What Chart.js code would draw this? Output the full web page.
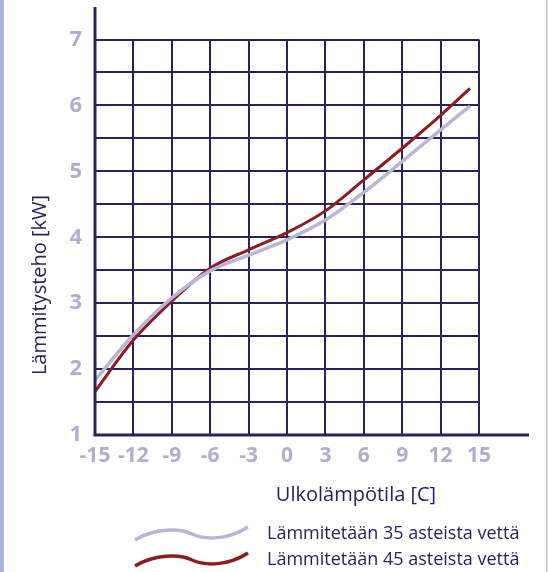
<!DOCTYPE html>
<html>
<head>
<meta charset="utf-8">
<script src="https://cdn.jsdelivr.net/npm/chart.js@4/dist/chart.umd.min.js"></script>
<style>
  html, body { margin: 0; padding: 0; background: #fff; }
  #wrap { width: 548px; height: 572px; position: relative; }
</style>
</head>
<body>
<div id="wrap"><canvas id="c"></canvas></div>
<script>
// data
const temps = [-15, -12, -9, -6, -3, 0, 3, 6, 9, 12, 14.3];
const power35 = [1.83, 2.52, 3.08, 3.49, 3.73, 3.96, 4.26, 4.68, 5.15, 5.63, 5.99];
const power45 = [1.66, 2.44, 3.03, 3.53, 3.81, 4.07, 4.40, 4.87, 5.35, 5.85, 6.26];
const seriesLabels = ['Lämmitetään 35 asteista vettä', 'Lämmitetään 45 asteista vettä'];
const xTitle = 'Ulkolämpötila [C]';
const yTitle = 'Lämmitysteho [kW]';

const NAVY = '#26245f';
const TICK = '#b0aed0';
const GRAY = '#b9b5d5';
const RED = '#8e1b1f';

// page edges
const frame = {
    id: 'frame',
    beforeDraw(chart) {
        const { ctx, width, height } = chart;
        ctx.save();
        ctx.fillStyle = '#aab5dc';
        ctx.fillRect(0, 0, 4, height);
        ctx.fillStyle = '#c4c0dc';
        ctx.fillRect(width - 2, 0, 1.5, height);
        ctx.restore();
    }
};

// axes that stick out past the grid, titles and the wavy legend
const extras = {
    id: 'extras',
    afterDraw(chart) {
        const { ctx, chartArea: a } = chart;
        ctx.save();
        ctx.strokeStyle = NAVY;
        ctx.lineWidth = 3;
        ctx.beginPath();
        ctx.moveTo(a.left, 7);
        ctx.lineTo(a.left, a.bottom);
        ctx.lineTo(a.right + 50, a.bottom);
        ctx.stroke();

        ctx.fillStyle = NAVY;
        ctx.font = '20px "Open Sans"';
        ctx.textAlign = 'center';
        ctx.textBaseline = 'middle';
        ctx.fillText(xTitle, 356, 495);

        ctx.save();
        ctx.translate(40, 285);
        ctx.rotate(-Math.PI / 2);
        ctx.fillText(yTitle, 0, 0);
        ctx.restore();

        // legend
        ctx.font = '18px "Open Sans"';
        ctx.textAlign = 'left';
        chart.data.datasets.forEach((ds, i) => {
            const y = 534 + i * 26;
            ctx.strokeStyle = ds.borderColor;
            ctx.lineWidth = 3.5;
            ctx.beginPath();
            ctx.moveTo(135, y + 6);
            ctx.bezierCurveTo(155, y - 6, 180, y - 6, 192, y);
            ctx.bezierCurveTo(205, y + 6, 228, y + 6, 248, y - 7);
            ctx.stroke();
            ctx.fillStyle = NAVY;
            ctx.fillText(ds.label, 267, y);
        });
        ctx.restore();
    }
};

new Chart(document.getElementById('c'), {
    type: 'line',
    data: {
        labels: temps,
        datasets: [
            {
                label: seriesLabels[0],
                data: temps.map((t, i) => ({ x: t, y: power35[i] })),
                borderColor: GRAY,
                borderWidth: 3.5,
                pointRadius: 0,
                cubicInterpolationMode: 'monotone'
            },
            {
                label: seriesLabels[1],
                data: temps.map((t, i) => ({ x: t, y: power45[i] })),
                borderColor: RED,
                borderWidth: 3,
                pointRadius: 0,
                cubicInterpolationMode: 'monotone'
            }
        ]
    },
    options: {
        responsive: true,
        maintainAspectRatio: false,
        animation: false,
        layout: { padding: { top: 39.5, right: 69, left: 0, bottom: 0 } },
        plugins: {
            legend: { display: false },
            tooltip: { enabled: false }
        },
        scales: {
            x: {
                type: 'linear',
                min: -15,
                max: 15,
                afterFit: (s) => { s.height = 137; },
                grid: { color: NAVY, lineWidth: 2, drawTicks: false },
                border: { display: false },
                ticks: {
                    stepSize: 3,
                    padding: 8,
                    color: TICK,
                    font: { family: '"Open Sans"', size: 21, weight: 'bold' },
                    callback: (v) => String(v)
                }
            },
            y: {
                min: 1,
                max: 7,
                afterFit: (s) => { s.width = 95; },
                grid: { color: NAVY, lineWidth: 2, drawTicks: false },
                border: { display: false },
                ticks: {
                    stepSize: 0.5,
                    padding: 13,
                    color: TICK,
                    font: { family: '"Open Sans"', size: 22, weight: 'bold' },
                    callback: (v) => Number.isInteger(v) ? String(v) : ''
                }
            }
        }
    },
    plugins: [frame, extras]
});
</script>
</body>
</html>
